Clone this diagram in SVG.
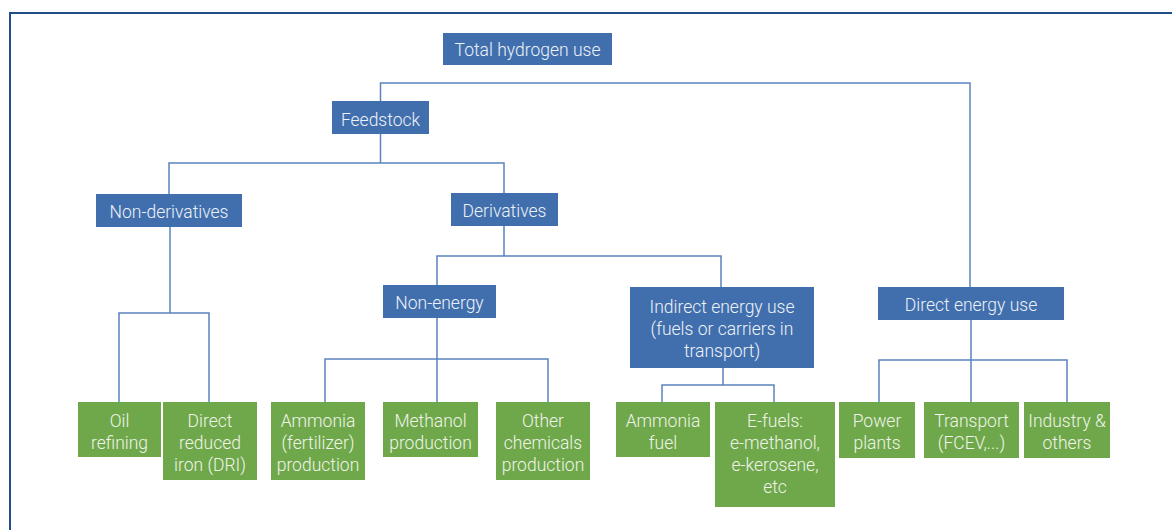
<svg xmlns="http://www.w3.org/2000/svg" width="1172" height="530" viewBox="0 0 1172 530">
<style>
.b{fill:#416fad}
.g{fill:#6fa84a}
.t{font-family:Roboto,"Liberation Sans",sans-serif;font-size:17.5px;font-weight:300;fill:#eef2f8;text-anchor:middle}
.g + .t{fill:#f0f4ea}
.c{fill:none;stroke:#5b82bf;stroke-width:1.5}
</style>
<rect x="10" y="13" width="1200" height="560" fill="none" stroke="#1f4e8a" stroke-width="2"/>
<g id="connectors">
<path class="c" d="M380.5 101V83H970V287"/>
<path class="c" d="M380.5 134V163M169 194V163H504V193"/>
<path class="c" d="M170 227V313M119 402V313H209V402"/>
<path class="c" d="M504 226V256M437 285V256H721V287"/>
<path class="c" d="M437 318V402M325 402V359H548V402"/>
<path class="c" d="M723 368V385M662 402V385H774V402"/>
<path class="c" d="M971 320V402M879 402V360H1067V402"/>
</g>
<g id="total"><rect class="b" x="443" y="33" width="169" height="32"/><text class="t" x="527.5" y="55.5">Total hydrogen use</text></g>
<g id="feedstock"><rect class="b" x="332" y="101" width="97" height="33"/><text class="t" x="380.5" y="125.5">Feedstock</text></g>
<g id="nonderiv"><rect class="b" x="96" y="194" width="146" height="33"/><text class="t" x="169" y="218">Non-derivatives</text></g>
<g id="deriv"><rect class="b" x="451" y="193" width="107" height="33"/><text class="t" x="504.5" y="217">Derivatives</text></g>
<g id="nonenergy"><rect class="b" x="383" y="285" width="113" height="33"/><text class="t" x="439.5" y="309">Non-energy</text></g>
<g id="indirect"><rect class="b" x="630" y="287" width="184" height="81"/><text class="t" x="722" y="313">Indirect energy use<tspan x="722" dy="22">(fuels or carriers in</tspan><tspan x="722" dy="22">transport)</tspan></text></g>
<g id="direct"><rect class="b" x="878" y="287" width="186" height="33"/><text class="t" x="971" y="311">Direct energy use</text></g>
<g id="oil"><rect class="g" x="78" y="402" width="83" height="55"/><text class="t" x="119.5" y="427">Oil<tspan x="119.5" dy="22">refining</tspan></text></g>
<g id="dri"><rect class="g" x="163" y="402" width="94" height="78"/><text class="t" x="210" y="427">Direct<tspan x="210" dy="22">reduced</tspan><tspan x="210" dy="22">iron (DRI)</tspan></text></g>
<g id="ammonia"><rect class="g" x="271" y="402" width="94" height="78"/><text class="t" x="318" y="427">Ammonia<tspan x="318" dy="22">(fertilizer)</tspan><tspan x="318" dy="22">production</tspan></text></g>
<g id="methanol"><rect class="g" x="383" y="402" width="95" height="55"/><text class="t" x="430.5" y="427">Methanol<tspan x="430.5" dy="22">production</tspan></text></g>
<g id="other"><rect class="g" x="496" y="402" width="94" height="78"/><text class="t" x="543" y="427">Other<tspan x="543" dy="22">chemicals</tspan><tspan x="543" dy="22">production</tspan></text></g>
<g id="ammoniafuel"><rect class="g" x="616" y="402" width="94" height="55"/><text class="t" x="663" y="427">Ammonia<tspan x="663" dy="22">fuel</tspan></text></g>
<g id="efuels"><rect class="g" x="715" y="402" width="120" height="105"/><text class="t" x="775" y="427">E-fuels:<tspan x="775" dy="22">e-methanol,</tspan><tspan x="775" dy="22">e-kerosene,</tspan><tspan x="775" dy="22">etc</tspan></text></g>
<g id="power"><rect class="g" x="839" y="402" width="76" height="56"/><text class="t" x="877" y="427">Power<tspan x="877" dy="22">plants</tspan></text></g>
<g id="transport"><rect class="g" x="924" y="402" width="95" height="56"/><text class="t" x="971.5" y="427">Transport<tspan x="971.5" dy="22">(FCEV,...)</tspan></text></g>
<g id="industry"><rect class="g" x="1024" y="402" width="86" height="56"/><text class="t" x="1067" y="427">Industry &amp;<tspan x="1067" dy="22">others</tspan></text></g>
</svg>
